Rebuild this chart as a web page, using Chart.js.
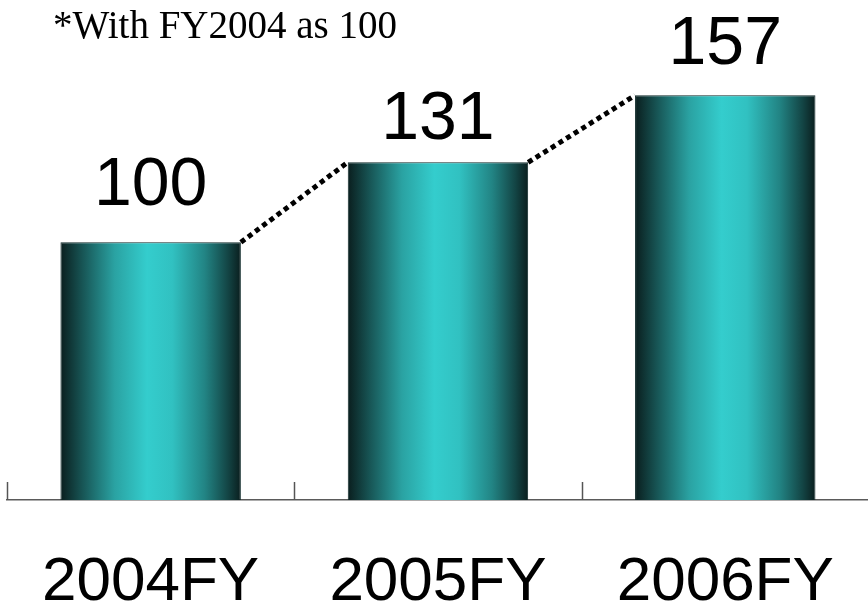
<!DOCTYPE html>
<html>
<head>
<meta charset="utf-8">
<script src="https://cdn.jsdelivr.net/npm/chart.js@4/dist/chart.umd.min.js"></script>
<style>
  html, body { margin: 0; padding: 0; background: #ffffff; overflow: hidden; }
  #c { display: block; }
</style>
</head>
<body>
<canvas id="c" width="872" height="604"></canvas>
<script>
// Index values by fiscal year (FY2004 = 100)
const categories = ['2004FY', '2005FY', '2006FY'];
const indexValues = [100, 131, 157];
const noteText = '*With FY2004 as 100';

// Label gap above each bar top (px)
const labelGaps = [37, 23, 31];
const BAR_PCT = 0.628;

function barGradient(ctx) {
  const chart = ctx.chart;
  const xs = chart.scales.x;
  if (!xs || !chart.chartArea) return '#33cccc';
  const i = ctx.dataIndex;
  const cx = xs.getPixelForValue(i);
  const half = xs.width / categories.length * BAR_PCT / 2;
  const g = chart.ctx.createLinearGradient(cx - half, 0, cx + half, 0);
  g.addColorStop(0.00, '#0a1e1e');
  g.addColorStop(0.12, '#175454');
  g.addColorStop(0.30, '#2aa2a2');
  g.addColorStop(0.48, '#34cdcd');
  g.addColorStop(0.62, '#31c1c1');
  g.addColorStop(0.80, '#228484');
  g.addColorStop(0.93, '#134444');
  g.addColorStop(1.00, '#0a1e1e');
  return g;
}

const decorations = {
  id: 'decorations',
  afterDatasetsDraw(chart) {
    const ctx = chart.ctx;
    const meta = chart.getDatasetMeta(0);
    const xs = chart.scales.x;
    const area = chart.chartArea;

    // dotted connectors between neighbouring bar tops
    ctx.save();
    ctx.strokeStyle = '#000000';
    ctx.lineWidth = 5;
    ctx.setLineDash([5, 4]);
    ctx.lineCap = 'butt';
    for (let i = 0; i < meta.data.length - 1; i++) {
      const a = meta.data[i], b = meta.data[i + 1];
      ctx.beginPath();
      ctx.moveTo(a.x + a.width / 2, a.y);
      ctx.lineTo(b.x - b.width / 2, b.y);
      ctx.stroke();
    }
    ctx.restore();

    // value labels above bars
    ctx.save();
    ctx.fillStyle = '#000000';
    ctx.font = '68px "Liberation Sans", Arial, sans-serif';
    ctx.textAlign = 'center';
    ctx.textBaseline = 'alphabetic';
    meta.data.forEach((bar, i) => {
      ctx.fillText(String(indexValues[i]), bar.x, bar.y - labelGaps[i]);
    });
    ctx.restore();

    // category boundary tick marks rising from the axis
    ctx.save();
    ctx.strokeStyle = '#555555';
    ctx.lineWidth = 1.5;
    const step = xs.width / categories.length;
    for (let i = 0; i <= categories.length; i++) {
      const x = Math.round(xs.getPixelForValue(0) - step / 2 + i * step) + 0.5;
      ctx.beginPath();
      ctx.moveTo(x, area.bottom - 18);
      ctx.lineTo(x, area.bottom);
      ctx.stroke();
    }
    ctx.restore();

    // note in the top-left corner
    ctx.save();
    ctx.fillStyle = '#000000';
    ctx.font = '39px "Liberation Serif", "Times New Roman", serif';
    ctx.textAlign = 'left';
    ctx.textBaseline = 'alphabetic';
    ctx.fillText(noteText, 53, 38);
    ctx.restore();
  }
};

new Chart(document.getElementById('c'), {
  type: 'bar',
  data: {
    labels: categories,
    datasets: [{
      data: indexValues,
      backgroundColor: barGradient,
      borderColor: '#0f2a2a',
      borderWidth: 1,
      barPercentage: BAR_PCT,
      categoryPercentage: 1.0
    }]
  },
  options: {
    responsive: false,
    maintainAspectRatio: false,
    animation: false,
    layout: { padding: { left: 7, right: 1, top: 0, bottom: 0 } },
    plugins: { legend: { display: false }, tooltip: { enabled: false } },
    scales: {
      x: {
        grid: { display: false },
        border: { display: true, color: '#5a5a5a', width: 1.5 },
        ticks: {
          color: '#000000',
          font: { family: '"Liberation Sans", Arial, sans-serif', size: 62 },
          padding: 38,
          maxRotation: 0
        },
        afterFit(scale) { scale.height = 104; }
      },
      y: {
        display: false,
        min: 0,
        max: 194
      }
    }
  },
  plugins: [decorations]
});
</script>
</body>
</html>
